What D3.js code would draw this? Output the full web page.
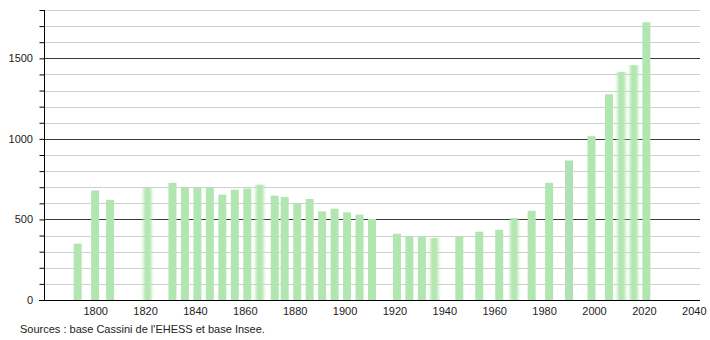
<!DOCTYPE html>
<html>
<head>
<meta charset="utf-8">
<script src="https://cdn.jsdelivr.net/npm/d3@7"></script>
<style>
  body { margin: 0; background: #fff; }
  text { font-family: "Liberation Sans", Arial, sans-serif; font-size: 11px; fill: #222; }
</style>
</head>
<body>
<div id="graph"></div>
<script>
// population data
var years = [1793, 1800, 1806, 1821, 1831, 1836, 1841, 1846, 1851, 1856, 1861, 1866,
             1872, 1876, 1881, 1886, 1891, 1896, 1901, 1906, 1911, 1921, 1926, 1931,
             1936, 1946, 1954, 1962, 1968, 1975, 1982, 1990, 1999, 2006, 2011, 2016, 2021];
var population = [350, 680, 622, 698, 727, 697, 697, 697, 654, 685, 692, 716,
                  648, 640, 598, 627, 550, 567, 544, 530, 503, 411, 394, 394,
                  385, 394, 424, 436, 509, 554, 727, 866, 1017, 1277, 1416, 1458, 1724];
var xTicks = [1800, 1820, 1840, 1860, 1880, 1900, 1920, 1940, 1960, 1980, 2000, 2020, 2040];
var yTicks = [0, 500, 1000, 1500];
var source = "Sources : base Cassini de l'EHESS et base Insee.";

// bars that look smeared in the original
var blurred = [1821, 1866, 1936, 1968, 2011, 2016];

var width = 710, height = 340;
// plot box (note: "top" is reserved on window, so use plotTop)
var plotLeft = 44, plotRight = 700, plotTop = 10, plotBottom = 300;

var svg = d3.select("#graph").append("svg")
    .attr("width", width)
    .attr("height", height);

svg.append("defs").append("filter")
    .attr("id", "smear")
    .attr("x", "-50%").attr("width", "200%")
    .append("feGaussianBlur")
    .attr("stdDeviation", "1.6 0");

var xScale = d3.scaleLinear()
    .domain([1779.5, 2042.5])
    .range([plotLeft, plotRight]);

var yScale = d3.scaleLinear()
    .domain([0, 1800])
    .range([plotBottom, plotTop]);

// grid lines every 100, darker every 500
svg.append("g")
  .selectAll("line")
  .data(d3.range(100, 1801, 100))
  .enter().append("line")
    .attr("x1", plotLeft)
    .attr("x2", plotRight)
    .attr("y1", function(d) { return Math.round(yScale(d)) + 0.5; })
    .attr("y2", function(d) { return Math.round(yScale(d)) + 0.5; })
    .attr("stroke", function(d) { return d % 500 == 0 ? "#3a3a3a" : "#cfcfcf"; })
    .attr("stroke-width", 1);

// bars
svg.append("g")
  .selectAll("rect")
  .data(years)
  .enter().append("rect")
    .attr("x", function(d) { return xScale(d) - 4; })
    .attr("width", 8)
    .attr("y", function(d, i) { return yScale(population[i]); })
    .attr("height", function(d, i) { return plotBottom - yScale(population[i]); })
    .attr("fill", function(d) { return d == 1990 ? "#afe0b6" : "#b2e6b0"; })
    .attr("filter", function(d) { return blurred.indexOf(d) >= 0 ? "url(#smear)" : null; });

// y axis
var yAxis = svg.append("g")
    .attr("transform", "translate(" + (plotLeft + 0.5) + ",0)")
    .call(d3.axisLeft(yScale).tickValues(d3.range(0, 1801, 100)).tickSize(5).tickFormat(""));
yAxis.select(".domain").attr("stroke", "#000").attr("d", "M0," + plotTop + "V" + plotBottom);
yAxis.selectAll(".tick line").attr("stroke", "#000");

svg.append("g")
  .selectAll("text")
  .data(yTicks)
  .enter().append("text")
    .attr("x", 33)
    .attr("y", function(d) { return yScale(d) + 4; })
    .attr("text-anchor", "end")
    .text(function(d) { return d; });

// x axis
svg.append("line")
    .attr("x1", 39).attr("x2", plotRight)
    .attr("y1", plotBottom + 0.5).attr("y2", plotBottom + 0.5)
    .attr("stroke", "#000");

var xAxis = svg.append("g")
    .attr("transform", "translate(0," + plotBottom + ")")
    .call(d3.axisBottom(xScale).tickValues(xTicks).tickSize(0).tickPadding(7).tickFormat(d3.format("d")));
xAxis.select(".domain").remove();
xAxis.selectAll("text")
    .attr("font-family", "Liberation Sans, Arial, sans-serif")
    .attr("font-size", 11)
    .attr("fill", "#222");

svg.append("text")
    .attr("x", 20)
    .attr("y", 333)
    .text(source);
</script>
</body>
</html>
